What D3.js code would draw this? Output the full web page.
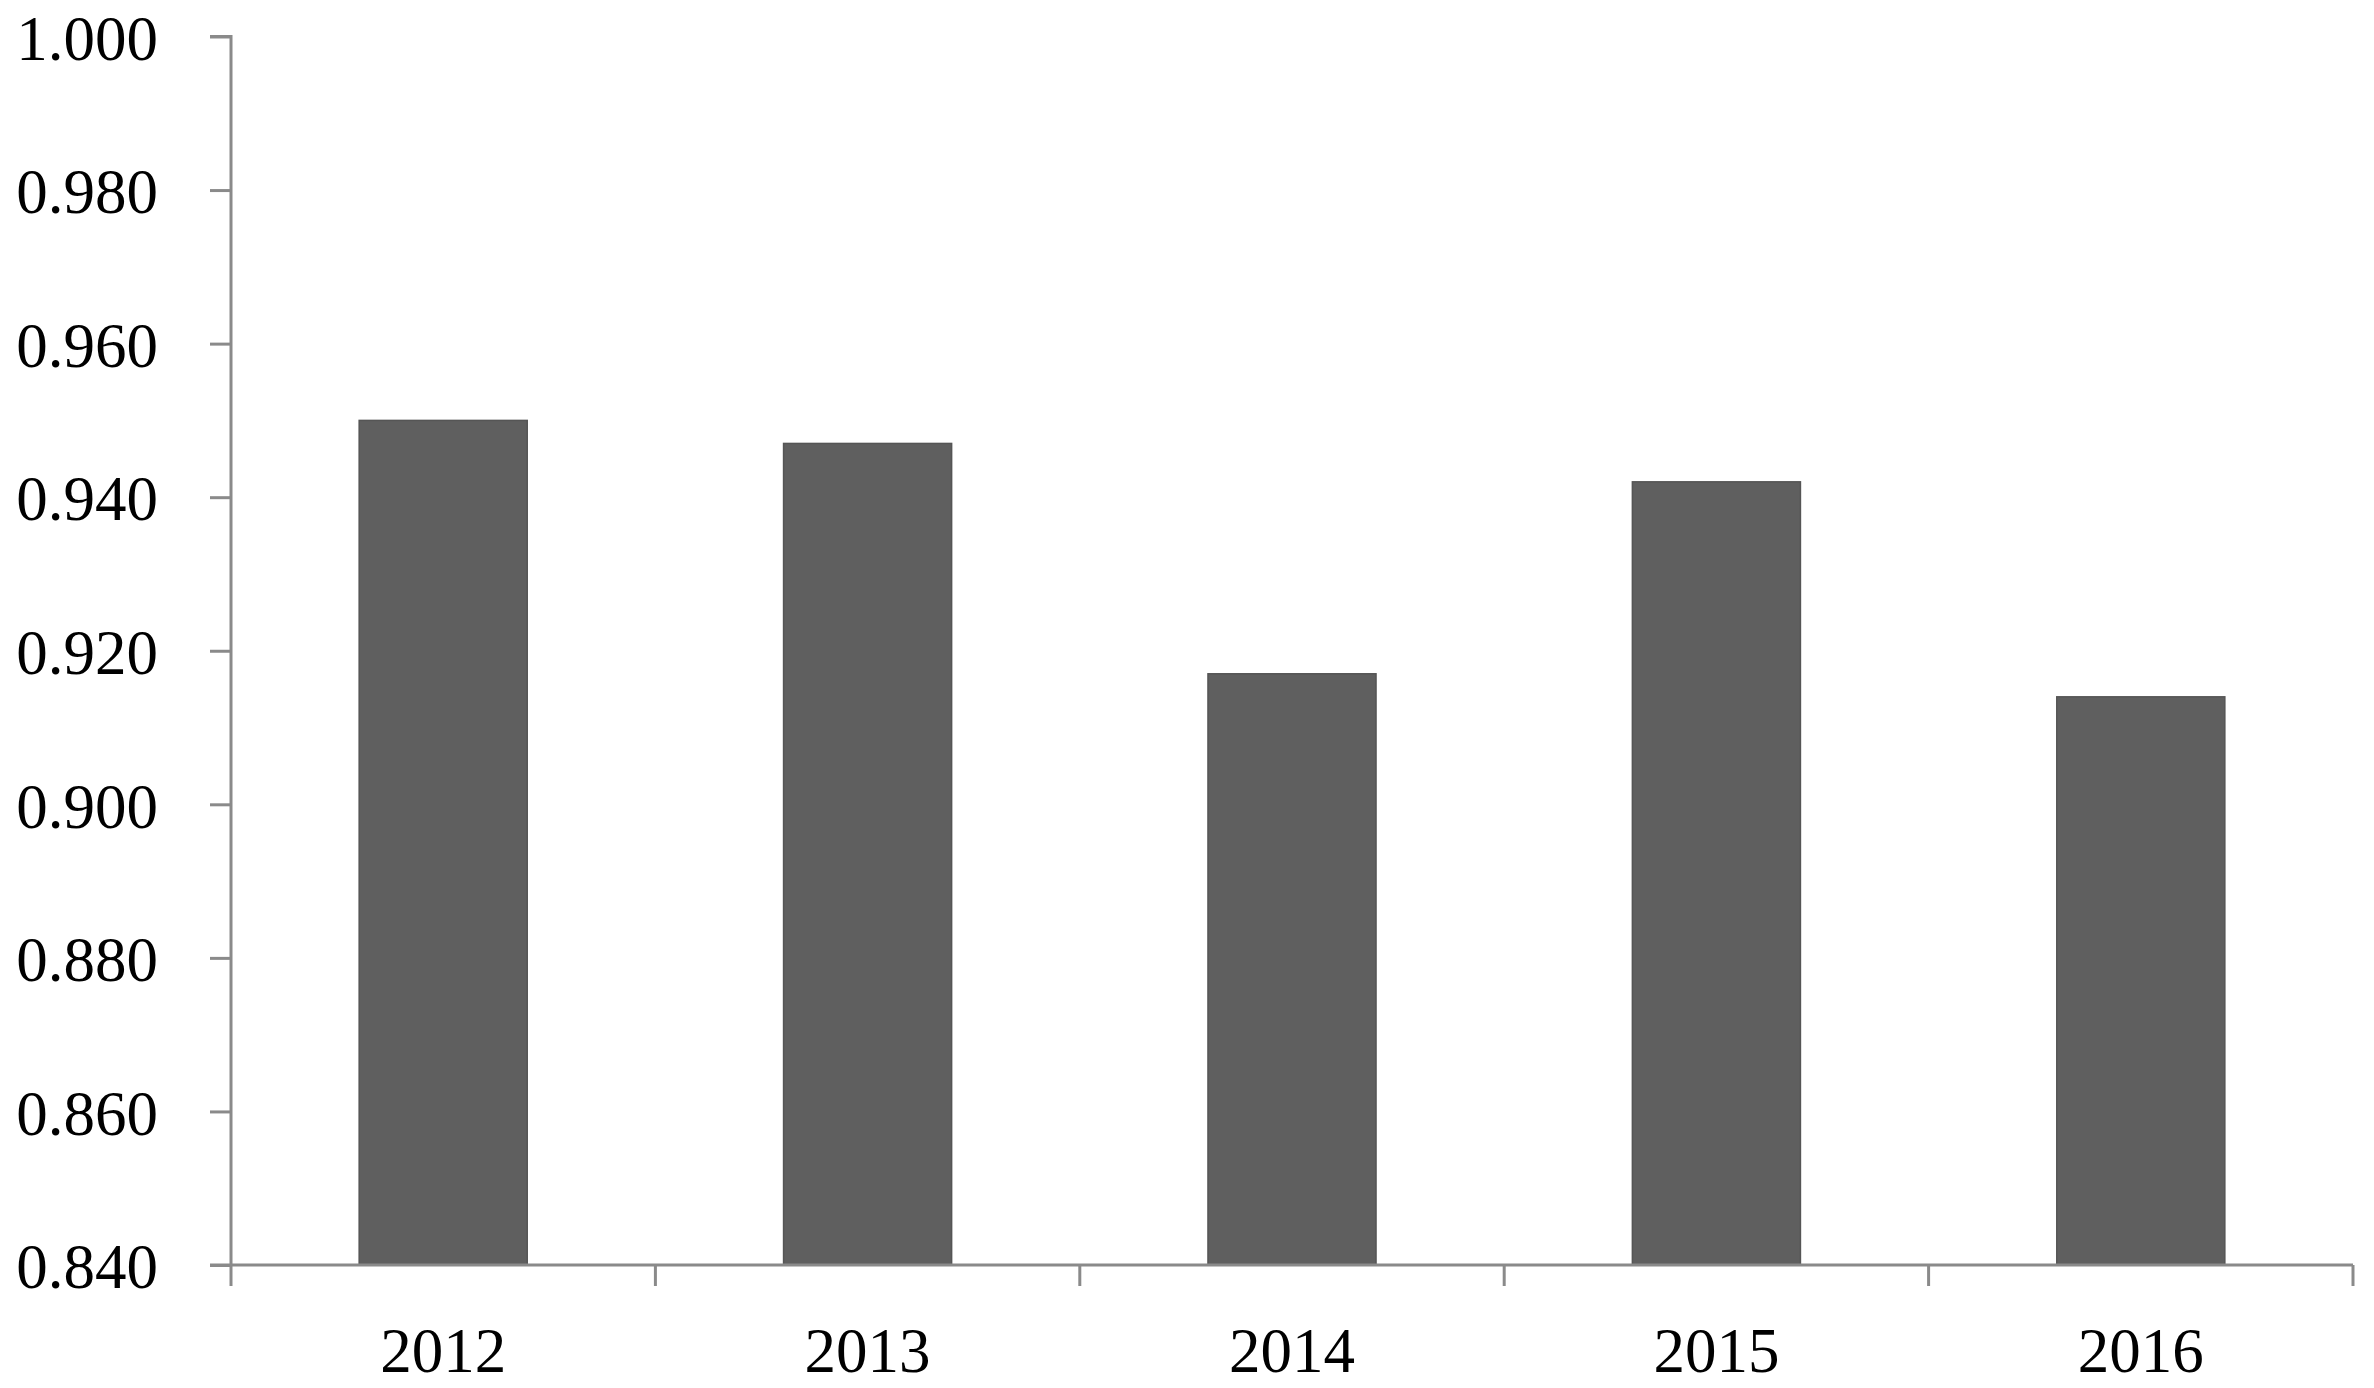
<!DOCTYPE html>
<html>
<head>
<meta charset="utf-8">
<script src="https://cdn.jsdelivr.net/npm/d3@7"></script>
<style>
html,body{margin:0;padding:0;background:#fff;}
svg{display:block;}
</style>
</head>
<body>
<svg id="chart" width="2374" height="1388"></svg>
<script>
const years = ["2012", "2013", "2014", "2015", "2016"];
const values = [0.950, 0.947, 0.917, 0.942, 0.914];
const yTicks = [0.84, 0.86, 0.88, 0.90, 0.92, 0.94, 0.96, 0.98, 1.00];

(function () {
const svg = d3.select("#chart");
const mLeft = 231, mRight = 2353, mTop = 36.5, mBottom = 1265;

const x = d3.scaleBand().domain(years).range([mLeft, mRight]).paddingInner(0.604).paddingOuter(0.302);
const xEdge = d3.scaleLinear().domain([0, years.length]).range([mLeft, mRight]);
const y = d3.scaleLinear().domain([0.84, 1.0]).range([mBottom, mTop]);

const axisColor = "#8a8a8a";
const fontFam = "'Liberation Serif','DejaVu Serif',serif";

// bars
svg.append("g").selectAll("rect").data(years).join("rect")
  .attr("x", d => x(d))
  .attr("width", x.bandwidth())
  .attr("y", (d, i) => y(values[i]))
  .attr("height", (d, i) => y(0.84) - y(values[i]))
  .attr("fill", "#5f5f5f")
  .attr("stroke", "#555")
  .attr("stroke-width", 1.5);

// y axis
const yAxis = d3.axisLeft(y).tickValues(yTicks).tickFormat(d3.format(".3f")).tickSize(21).tickPadding(52);
const gy = svg.append("g").attr("transform", `translate(${mLeft},0)`).call(yAxis);
gy.select(".domain").attr("stroke", axisColor).attr("stroke-width", 3).attr("d", `M-21,${mTop}H0V${mBottom}`);
gy.selectAll(".tick line").attr("stroke", axisColor).attr("stroke-width", 3);
gy.selectAll(".tick text").attr("fill", "#000").style("font-family", fontFam).style("font-size", "63px").attr("dy", "0.36em");

// x axis baseline
svg.append("line").attr("x1", mLeft - 21).attr("x2", mRight).attr("y1", mBottom).attr("y2", mBottom)
  .attr("stroke", axisColor).attr("stroke-width", 3);
// x ticks at band edges
svg.append("g").selectAll("line").data(d3.range(years.length + 1)).join("line")
  .attr("x1", d => xEdge(d)).attr("x2", d => xEdge(d))
  .attr("y1", mBottom).attr("y2", mBottom + 21)
  .attr("stroke", axisColor).attr("stroke-width", 3);
// x labels
svg.append("g").selectAll("text").data(years).join("text")
  .attr("x", d => x(d) + x.bandwidth() / 2)
  .attr("y", 1372)
  .attr("text-anchor", "middle")
  .style("font-family", fontFam).style("font-size", "63px")
  .text(d => d);
})();
</script>
</body>
</html>
